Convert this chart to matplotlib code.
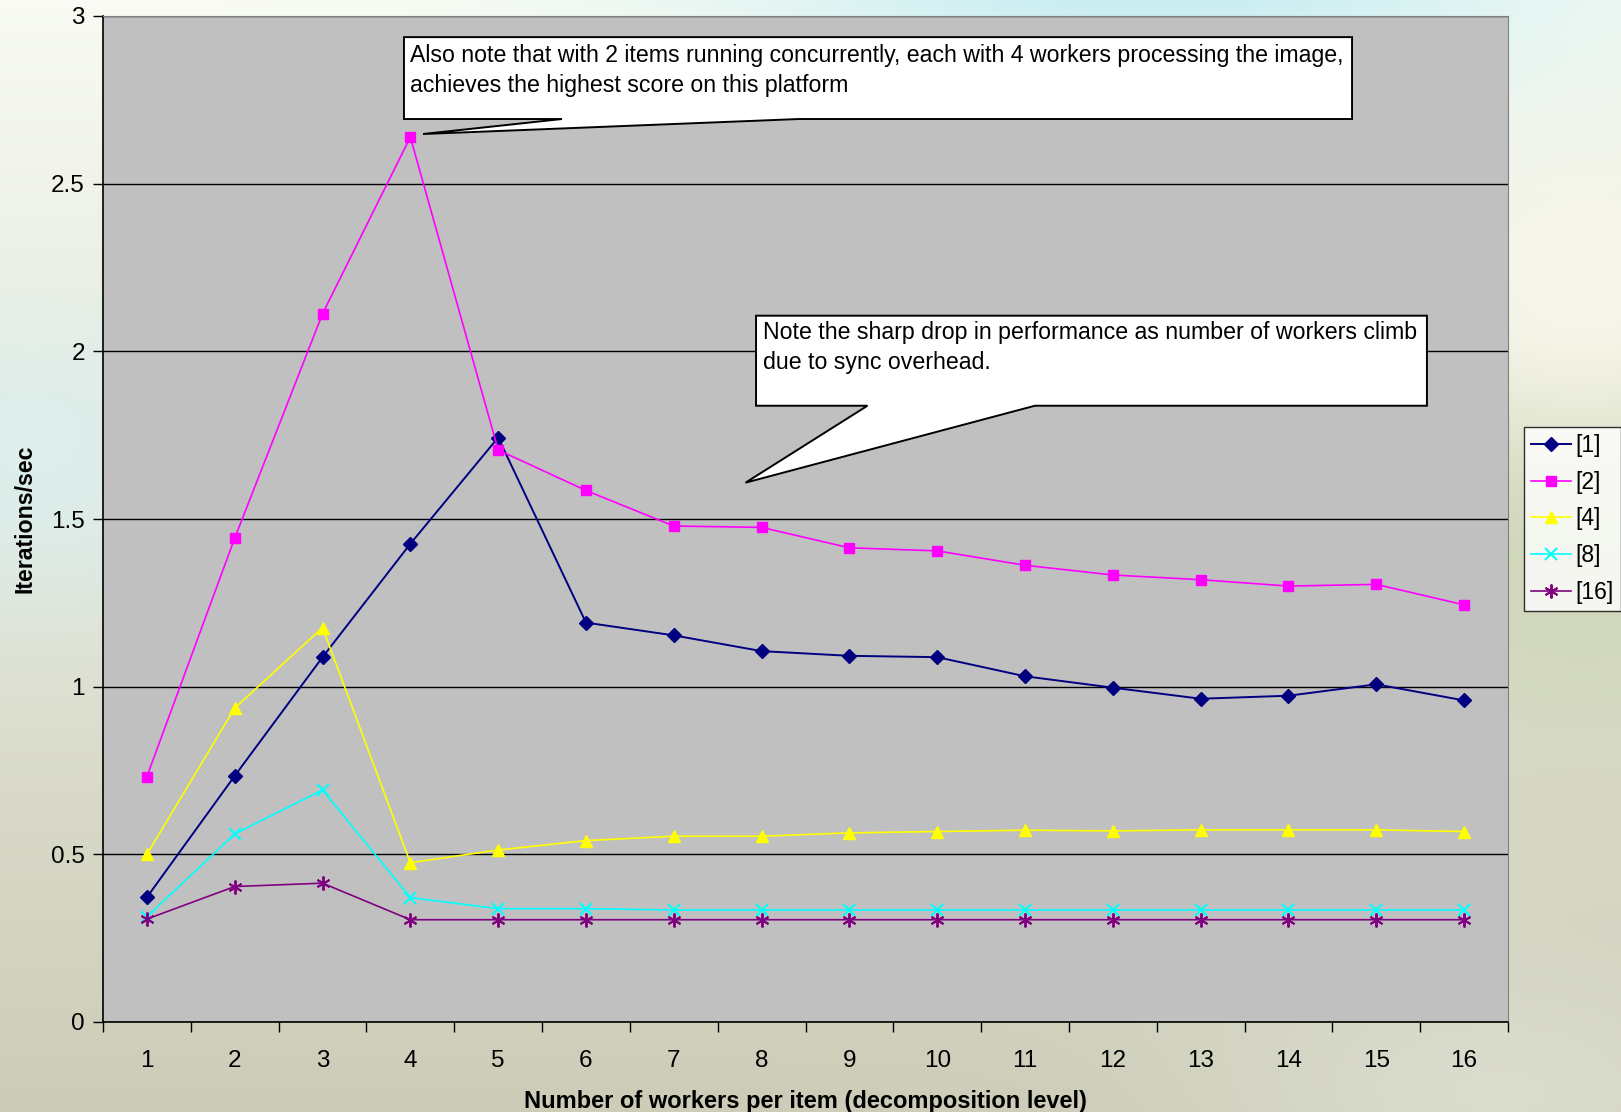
import numpy as np
import matplotlib
matplotlib.use('Agg')
import matplotlib.pyplot as plt
from matplotlib.patches import Polygon

plt.rcParams['font.family'] = ['Liberation Sans', 'DejaVu Sans']

# decomposition level (workers per item)
workers = list(range(1, 17))

# iterations/sec for each number of concurrent items
items_1 = [0.372, 0.734, 1.088, 1.426, 1.743, 1.191, 1.153, 1.106, 1.092, 1.088,
           1.031, 0.997, 0.964, 0.973, 1.007, 0.959]
items_2 = [0.732, 1.443, 2.112, 2.639, 1.706, 1.585, 1.479, 1.475, 1.414, 1.405,
           1.362, 1.333, 1.319, 1.300, 1.305, 1.244]
items_4 = [0.500, 0.936, 1.176, 0.475, 0.513, 0.541, 0.554, 0.554, 0.564, 0.568,
           0.572, 0.570, 0.573, 0.573, 0.573, 0.568]
items_8 = [0.314, 0.561, 0.692, 0.371, 0.338, 0.338, 0.334, 0.334, 0.334, 0.334,
           0.334, 0.334, 0.334, 0.334, 0.334, 0.334]
items_16 = [0.307, 0.404, 0.414, 0.305, 0.305, 0.305, 0.305, 0.305, 0.305, 0.305,
            0.305, 0.305, 0.305, 0.305, 0.305, 0.305]

series_labels = ['[1]', '[2]', '[4]', '[8]', '[16]']

note_peak = ['Also note that with 2 items running concurrently, each with 4 workers processing the image,',
             'achieves the highest score on this platform']
note_drop = ['Note the sharp drop in performance as number of workers climb',
             'due to sync overhead.']

W, H = 1621, 1112
fig = plt.figure(figsize=(W / 100, H / 100), dpi=100)

# slide style backdrop
bg = fig.add_axes([0, 0, 1, 1], zorder=0)
yy, xx = np.mgrid[0:H, 0:W].astype(float)
t = (yy / H)[..., None]
top = np.array([0.975, 0.985, 0.955])
bottom = np.array([0.80, 0.80, 0.72])
img = top * (1 - t) + bottom * t


def blob(cx, cy, sx, sy, color, strength):
    g = np.exp(-(((xx - cx) / sx) ** 2 + ((yy - cy) / sy) ** 2))[..., None] * strength
    return g, np.array(color)


for cx, cy, sx, sy, col, s in [
    (1150, -40, 420, 160, (0.78, 0.93, 0.95), 1.0),
    (30, 460, 260, 160, (0.86, 0.94, 0.94), 0.8),
    (1580, 520, 260, 200, (0.78, 0.82, 0.68), 0.8),
    (1580, 300, 200, 160, (0.99, 0.98, 0.94), 0.8),
    (1500, 1100, 300, 140, (0.88, 0.89, 0.84), 0.7),
]:
    g, c = blob(cx, cy, sx, sy, col, s)
    img = img * (1 - g) + c * g
bg.imshow(np.clip(img, 0, 1), aspect='auto', extent=[0, 1, 0, 1])
bg.axis('off')

ax = fig.add_axes([103 / W, 1 - 1022 / H, 1405 / W, 1006 / H], zorder=1)
ax.set_facecolor('#C0C0C0')

styles = [
    dict(color='#000080', marker='D', ms=7, lw=1.4),
    dict(color='#FF00FF', marker='s', ms=7.5, lw=1.2),
    dict(color='#FFFF00', marker='^', ms=8.5, lw=1.2),
    dict(color='#00FFFF', marker='x', ms=8.5, lw=1.2, mew=1.5),
    dict(color='#800080', marker=(6, 2, 0), ms=10, lw=1.2, mew=1.4),
]
handles = []
for vals, lab, st in zip([items_1, items_2, items_4, items_8, items_16], series_labels, styles):
    h, = ax.plot(workers, vals, label=lab, zorder=3, **st)
    handles.append(h)

ax.set_xlim(0.5, 16.5)
ax.set_ylim(0, 3)
ax.set_yticks(np.arange(0, 3.01, 0.5))
ax.set_yticklabels(['0', '0.5', '1', '1.5', '2', '2.5', '3'])
ax.yaxis.grid(True, color='black', lw=1.0)
ax.set_axisbelow(True)
ax.set_xticks(workers)
ax.set_xticks(np.arange(0.5, 16.6, 1), minor=True)
ax.tick_params(axis='x', which='major', length=0, pad=20.5, labelsize=17.5)
ax.tick_params(axis='x', which='minor', length=7, width=1, color='black', direction='out')
ax.tick_params(axis='y', length=7, width=1, direction='out', labelsize=17.5, pad=6)
for side in ['top', 'right']:
    ax.spines[side].set_color('#808080')
for side in ['left', 'bottom']:
    ax.spines[side].set_color('black')
    ax.spines[side].set_linewidth(1.2)

ax.set_xlabel('Number of workers per item (decomposition level)', fontsize=17,
              fontweight='bold')
ax.set_ylabel('Iterations/sec', fontsize=16.7, fontweight='bold')
ax.xaxis.set_label_coords(0.5, -0.079)
ax.yaxis.set_label_coords(-0.0555, 0.5)
ax.xaxis.label.set_va('center')
ax.yaxis.label.set_va('center')


# callout boxes with wedge pointers (axes fraction)
def callout(x0, x1, y0, y1, b0, b1, tip, lines, tx, ty):
    pts = [(x0, y0), (b0, y0), tip, (b1, y0), (x1, y0), (x1, y1), (x0, y1)]
    ax.add_patch(Polygon(pts, closed=True, transform=ax.transAxes, facecolor='white',
                         edgecolor='black', lw=1.4, zorder=5, clip_on=False))
    for line, y in zip(lines, ty):
        ax.text(tx, y, line, transform=ax.transAxes, fontsize=16.7, va='center',
                ha='left', zorder=6)


callout(0.2142, 0.889, 0.8976, 0.979, 0.3267, 0.4954, (0.2278, 0.8827),
        note_peak, 0.2185, [0.9612, 0.9314])
callout(0.4648, 0.9423, 0.6126, 0.7021, 0.5441, 0.6633, (0.4573, 0.5361),
        note_drop, 0.4695, [0.6849, 0.6551])

leg = fig.legend(handles=handles, labels=series_labels, loc='upper left',
                 bbox_to_anchor=(1524 / W, 1 - 427 / H), borderaxespad=0,
                 fontsize=16.5, frameon=True, fancybox=False, edgecolor='black',
                 handlelength=1.75, handletextpad=0.2, labelspacing=0.6,
                 borderpad=0.3)
leg.get_frame().set_linewidth(1.0)
leg.set_zorder(10)

fig.savefig('out.png', dpi=100)
